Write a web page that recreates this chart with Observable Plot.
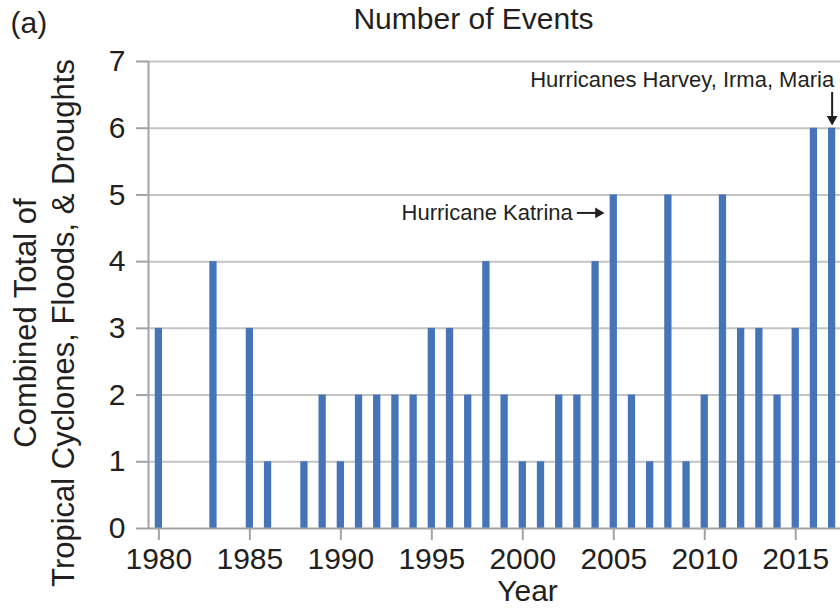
<!DOCTYPE html>
<html>
<head>
<meta charset="utf-8">
<script src="https://cdn.jsdelivr.net/npm/d3@7"></script>
<script src="https://cdn.jsdelivr.net/npm/@observablehq/plot@0.6"></script>
<style>
  html, body { margin: 0; padding: 0; background: #fff; }
  #chart svg { display: block; }
</style>
</head>
<body>
<div id="chart"></div>
<script>
const years = [1980,1981,1982,1983,1984,1985,1986,1987,1988,1989,1990,1991,1992,1993,1994,1995,1996,1997,1998,1999,2000,2001,2002,2003,2004,2005,2006,2007,2008,2009,2010,2011,2012,2013,2014,2015,2016,2017];
const counts = [3,0,0,4,0,3,1,0,1,2,1,2,2,2,2,3,3,2,4,2,1,1,2,2,4,5,2,1,5,1,2,5,3,3,2,3,6,6];
const xTicks = [1980,1985,1990,1995,2000,2005,2010,2015];
const yTicks = [0,1,2,3,4,5,6,7];
const xDomain = [1979.43, 2017.46];
const yDomain = [0, 7];
const title = "Number of Events";
const panel = "(a)";
const yLabel1 = "Combined Total of";
const yLabel2 = "Tropical Cyclones, Floods, & Droughts";
const xLabel = "Year";
const katrina = [{year: 2005, count: 5, label: "Hurricane Katrina"}];
const harvey = [{year: 2017, count: 6, label: "Hurricanes Harvey, Irma, Maria"}];

const data = years.map((y, i) => ({year: y, count: counts[i]}));
const font = "'Liberation Sans', Arial, Helvetica, sans-serif";
const ink = "#231f20";
const axisGray = "#a3a3a3";
const gridGray = "#c4c4c4";
const barBlue = "#4674b9";

const chart = Plot.plot({
  width: 840,
  height: 609,
  marginLeft: 148,
  marginRight: 0,
  marginTop: 61,
  marginBottom: 81,
  style: {fontFamily: font, background: "#fff", color: ink},
  x: {domain: xDomain, axis: null},
  y: {domain: yDomain, axis: null},
  marks: [
    Plot.ruleY(yTicks.filter(d => d > 0), {stroke: gridGray, strokeWidth: 2}),
    Plot.rectY(data, {x1: d => d.year - 0.2, x2: d => d.year + 0.2, y: "count", fill: barBlue}),
    Plot.ruleY([0], {stroke: axisGray, strokeWidth: 2}),
    Plot.ruleX([xDomain[0]], {stroke: axisGray, strokeWidth: 2}),
    Plot.axisY({ticks: yTicks, label: null, tickSize: 12, tickPadding: 11, fontSize: 30, stroke: axisGray, strokeWidth: 2, fill: ink, tickFormat: d => String(d)}),
    Plot.axisX({ticks: xTicks, label: null, tickSize: 12, tickPadding: 7, fontSize: 30, stroke: axisGray, strokeWidth: 2, fill: ink, tickFormat: d => String(d)}),
    // titles
    Plot.text([title], {text: d => d, frameAnchor: "top", textAnchor: "middle", dx: -21, dy: -42, lineAnchor: "middle", fontSize: 30, fill: ink}),
    Plot.text([panel], {text: d => d, frameAnchor: "top-left", textAnchor: "start", dx: -138, dy: -38, lineAnchor: "middle", fontSize: 30, fill: ink}),
    Plot.text([yLabel1], {text: d => d, frameAnchor: "left", textAnchor: "middle", rotate: -90, dx: -122, dy: 28, lineAnchor: "middle", fontSize: 31, fill: ink}),
    Plot.text([yLabel2], {text: d => d, frameAnchor: "left", textAnchor: "middle", rotate: -90, dx: -84, dy: 28, lineAnchor: "middle", fontSize: 31, fill: ink}),
    Plot.text([xLabel], {text: d => d, frameAnchor: "bottom", textAnchor: "middle", dx: 33, dy: 63, lineAnchor: "middle", fontSize: 30, fill: ink}),
    // Katrina annotation
    Plot.text(katrina, {x: "year", y: "count", text: "label", textAnchor: "end", lineAnchor: "middle", dx: -41, dy: 18, fontSize: 22, fill: ink}),
    Plot.ruleY(katrina, {y: "count", x1: d => d.year - 2.0, x2: d => d.year - 0.62, dy: 18, stroke: ink, strokeWidth: 2}),
    Plot.dot(katrina, {x: "year", y: "count", symbol: "triangle", r: 4, rotate: 90, dx: -15.5, dy: 18, fill: ink, stroke: null}),
    // Harvey annotation
    Plot.text(harvey, {x: "year", y: "count", text: "label", textAnchor: "end", lineAnchor: "middle", dx: 2, dy: -48, fontSize: 22, fill: ink}),
    Plot.ruleX(harvey, {x: "year", y1: d => d.count + 0.13, y2: d => d.count + 0.535, stroke: ink, strokeWidth: 2}),
    Plot.dot(harvey, {x: "year", y: "count", symbol: "triangle", r: 4, rotate: 180, dy: -9, fill: ink, stroke: null})
  ]
});
document.getElementById("chart").appendChild(chart);
</script>
</body>
</html>
